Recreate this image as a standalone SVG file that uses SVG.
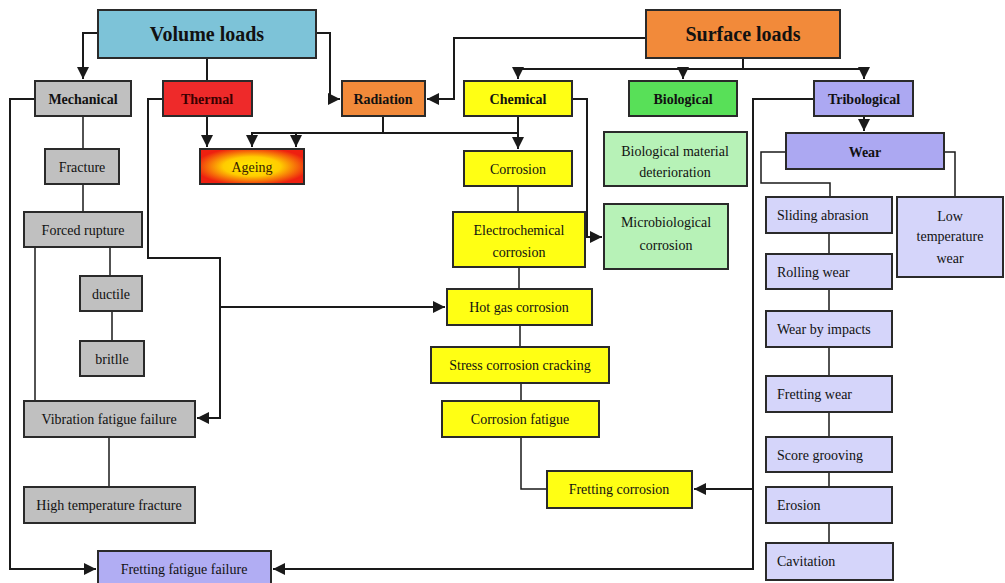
<svg xmlns="http://www.w3.org/2000/svg" width="1005" height="583" viewBox="0 0 1005 583">
<style>
rect{stroke:#2a2a2a;stroke-width:2}
text{font-family:"Liberation Serif","Times New Roman",serif;font-size:14px;fill:#111111;text-anchor:middle}
.b{font-weight:bold}
.big{font-size:20px;font-weight:bold}
.l{text-anchor:start}
.gray{fill:#c0c0c0}
.yel{fill:#ffff14}
.lav{fill:#aca8f2}
.lav2{fill:#d5d5fa}
.lg{fill:#b7f2b7}
.orange{fill:#f28a3a}
#connectors path{fill:none;stroke:#1a1a1a;stroke-width:2}
#connectors .t{stroke-width:1.5}
</style>
<defs>
<marker id="ah" viewBox="0 0 10 10" refX="10" refY="5" markerWidth="6" markerHeight="6" orient="auto" markerUnits="strokeWidth">
<path d="M0,0 L10,5 L0,10 z" fill="#1a1a1a"/>
</marker>
<radialGradient id="ageg" cx="50%" cy="50%" r="55%">
<stop offset="0" stop-color="#ffee00"/>
<stop offset="0.5" stop-color="#ffcc00"/>
<stop offset="1" stop-color="#ee2010"/>
</radialGradient>
</defs>
<rect width="1005" height="583" fill="#ffffff" style="stroke:none"/>
<g id="connectors">
<path d="M98,33 H83 V79" marker-end="url(#ah)"/>
<path d="M316,33 H330 V99 H340" marker-end="url(#ah)"/>
<path d="M207,58 V81"/>
<path d="M207,116 V147" marker-end="url(#ah)"/>
<path d="M383,116 V133"/>
<path d="M252,147 V133 H518"/>
<path d="M252,133 V147" marker-end="url(#ah)"/>
<path d="M296,133 V147" marker-end="url(#ah)"/>
<path d="M518,116 V149" marker-end="url(#ah)"/>
<path d="M646,38 H454 V99 H427" marker-end="url(#ah)"/>
<path d="M743,58 V69"/>
<path d="M518,69 H864"/>
<path d="M518,69 V79" marker-end="url(#ah)"/>
<path d="M683,69 V79" marker-end="url(#ah)"/>
<path d="M864,69 V79" marker-end="url(#ah)"/>
<path d="M864,116 V131" marker-end="url(#ah)"/>
<path class="t" d="M786,152 H761 V183 H830 V197"/>
<path class="t" d="M944,152 H955 V197"/>
<path class="t" d="M829,233 V254 M829,289 V311 M829,347 V376 M829,412 V437 M829,472 V487 M829,523 V543"/>
<path class="t" d="M83,116 V149 M83,184 V212"/>
<path class="t" d="M110,247 V276 M112,311 V341"/>
<path class="t" d="M35,247 V401"/>
<path class="t" d="M109,437 V487"/>
<path d="M35,99 H10 V569 H96" marker-end="url(#ah)"/>
<path d="M163,99 H148 V258 H220 V418 H197" marker-end="url(#ah)"/>
<path d="M220,307 H445" marker-end="url(#ah)"/>
<path d="M572,99 H587 V237 H602" marker-end="url(#ah)"/>
<path class="t" d="M518,186 V212 M519,267 V289 M520,325 V347 M521,383 V401"/>
<path class="t" d="M521,437 V489 H547"/>
<path d="M814,99 H753 V569 H273" marker-end="url(#ah)"/>
<path d="M753,489 H694" marker-end="url(#ah)"/>
</g>
<g id="volume-loads"><rect x="98" y="10" width="218" height="48" fill="#7dc3d8"/><text class="big" x="207" y="41">Volume loads</text></g>
<g id="surface-loads"><rect class="orange" x="646" y="10" width="194" height="48"/><text class="big" x="743" y="41">Surface loads</text></g>
<g id="mechanical"><rect class="gray" x="35" y="81" width="96" height="35"/><text class="b" x="83" y="104">Mechanical</text></g>
<g id="thermal"><rect x="163" y="81" width="89" height="35" fill="#ee2a2a"/><text class="b" x="207" y="104" style="fill:#3a0000">Thermal</text></g>
<g id="radiation"><rect class="orange" x="342" y="81" width="83" height="35"/><text class="b" x="383" y="104">Radiation</text></g>
<g id="chemical"><rect class="yel" x="464" y="81" width="108" height="35"/><text class="b" x="518" y="104">Chemical</text></g>
<g id="biological"><rect x="629" y="81" width="108" height="35" fill="#58e058"/><text class="b" x="683" y="104">Biological</text></g>
<g id="tribological"><rect class="lav" x="814" y="81" width="99" height="35"/><text class="b" x="864" y="104">Tribological</text></g>
<g id="ageing"><rect x="200" y="149" width="104" height="35" fill="url(#ageg)"/><text x="252" y="172" style="fill:#3a2000">Ageing</text></g>
<g id="fracture"><rect class="gray" x="45" y="149" width="74" height="35"/><text x="82" y="172">Fracture</text></g>
<g id="forced-rupture"><rect class="gray" x="24" y="212" width="118" height="35"/><text x="83" y="235">Forced rupture</text></g>
<g id="ductile"><rect class="gray" x="80" y="276" width="62" height="35"/><text x="111" y="299">ductile</text></g>
<g id="britlle"><rect class="gray" x="80" y="341" width="64" height="35"/><text x="112" y="364">britlle</text></g>
<g id="vibration-fatigue-failure"><rect class="gray" x="24" y="401" width="171" height="36"/><text x="109" y="424">Vibration fatigue failure</text></g>
<g id="high-temperature-fracture"><rect class="gray" x="24" y="487" width="171" height="36"/><text x="109" y="510">High temperature fracture</text></g>
<g id="fretting-fatigue-failure"><rect x="98" y="551" width="173" height="36" fill="#b1adf3"/><text x="184" y="574">Fretting fatigue failure</text></g>
<g id="corrosion"><rect class="yel" x="464" y="151" width="108" height="35"/><text x="518" y="174">Corrosion</text></g>
<g id="electrochemical-corrosion"><rect class="yel" x="453" y="212" width="132" height="55"/><text x="519" y="235">Electrochemical</text><text x="519" y="257">corrosion</text></g>
<g id="hot-gas-corrosion"><rect class="yel" x="447" y="289" width="145" height="36"/><text x="519" y="312">Hot gas corrosion</text></g>
<g id="stress-corrosion-cracking"><rect class="yel" x="431" y="347" width="178" height="36"/><text x="520" y="370">Stress corrosion cracking</text></g>
<g id="corrosion-fatigue"><rect class="yel" x="442" y="401" width="157" height="36"/><text x="520" y="424">Corrosion fatigue</text></g>
<g id="fretting-corrosion"><rect class="yel" x="547" y="471" width="145" height="37"/><text x="619" y="494">Fretting corrosion</text></g>
<g id="biological-material-deterioration"><rect class="lg" x="604" y="132" width="143" height="54"/><text x="675" y="156">Biological material</text><text x="675" y="177">deterioration</text></g>
<g id="microbiological-corrosion"><rect class="lg" x="604" y="204" width="124" height="65"/><text x="666" y="227">Microbiological</text><text x="666" y="250">corrosion</text></g>
<g id="wear"><rect class="lav" x="786" y="133" width="158" height="36"/><text class="b" x="865" y="157">Wear</text></g>
<g id="sliding-abrasion"><rect class="lav2" x="766" y="197" width="126" height="36"/><text class="l" x="777" y="220">Sliding abrasion</text></g>
<g id="rolling-wear"><rect class="lav2" x="766" y="254" width="126" height="35"/><text class="l" x="777" y="277">Rolling wear</text></g>
<g id="wear-by-impacts"><rect class="lav2" x="766" y="311" width="126" height="36"/><text class="l" x="777" y="334">Wear by impacts</text></g>
<g id="fretting-wear"><rect class="lav2" x="766" y="376" width="126" height="36"/><text class="l" x="777" y="399">Fretting wear</text></g>
<g id="score-grooving"><rect class="lav2" x="766" y="437" width="126" height="35"/><text class="l" x="777" y="460">Score grooving</text></g>
<g id="erosion"><rect class="lav2" x="766" y="487" width="126" height="36"/><text class="l" x="777" y="510">Erosion</text></g>
<g id="cavitation"><rect class="lav2" x="766" y="543" width="127" height="37"/><text class="l" x="777" y="566">Cavitation</text></g>
<g id="low-temperature-wear"><rect class="lav2" x="897" y="197" width="106" height="80"/><text x="950" y="221">Low</text><text x="950" y="241">temperature</text><text x="950" y="263">wear</text></g>
</svg>
